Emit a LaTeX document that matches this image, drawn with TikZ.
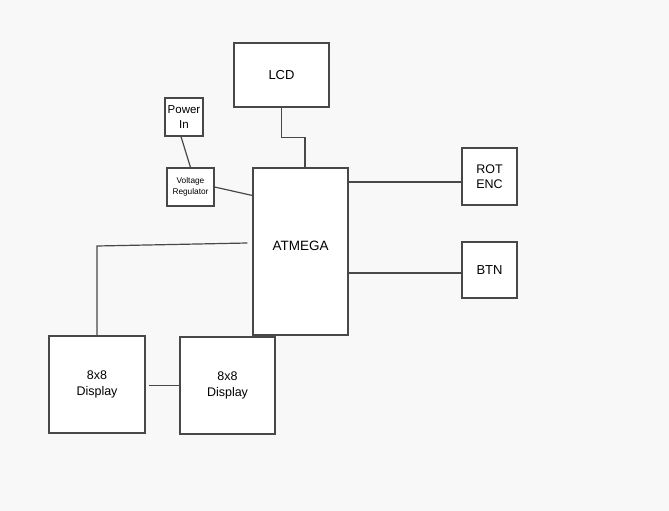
\documentclass[tikz,border=0pt]{standalone}
\usepackage{fontspec}
\setmainfont{Liberation Sans}
\definecolor{bg}{HTML}{F8F8F8}
\definecolor{ln}{HTML}{484848}
\begin{document}
\begin{tikzpicture}[x=1pt, y=-1pt,
    blk/.style={draw=ln, fill=white, line width=1.2pt, inner sep=0pt, align=center, font=\fontsize{12.5}{15.5}\selectfont},
    wire/.style={draw=ln, line width=1.2pt}]
            \fill[bg] (0,0) rectangle (669,511);
            \useasboundingbox (0,0) rectangle (669,511);

            \node[blk, minimum width=95pt, minimum height=64pt, font=\fontsize{13}{16}\selectfont] (LCD) at (281.5, 75) {LCD};
            \node[blk, minimum width=38pt, minimum height=38pt, font=\fontsize{11.5}{14.5}\selectfont] (PWR) at (184, 117) {Power\\In};
            \node[blk, minimum width=47pt, minimum height=38pt, font=\fontsize{8.3}{11}\selectfont] (VREG) at (190.5, 187) {Voltage\\Regulator};
            \node[blk, minimum width=95pt, minimum height=167pt, label={[yshift=6pt, font=\fontsize{13.5}{16}\selectfont]center:ATMEGA}] (MCU) at (300.5, 251.5) {};

            \node[blk, minimum width=55pt, minimum height=57pt] (ROT) at (489.5, 176.5) {ROT\\ENC};
            \node[blk, minimum width=55pt, minimum height=56pt, font=\fontsize{13}{16}\selectfont] (BTN) at (489.5, 270) {BTN};

            \node[blk, minimum width=96pt, minimum height=97pt] (DA) at (97, 384.5) {8x8\\Display};
            \node[blk, minimum width=95pt, minimum height=97pt] (DB) at (227.5, 385.5) {8x8\\Display};

            \coordinate (MW) at ([xshift=-5pt, yshift=8.5pt]MCU.west);
            \coordinate (DK) at (97, 246);

            \draw[wire] (LCD.south) -- ++(0, 30) -| ([xshift=4.5pt]MCU.north);
            \draw[wire] ([xshift=-3pt]PWR.south) -- (VREG.north);
            \draw[wire] (VREG.east) -- ([yshift=56pt]MCU.west);
            \draw[wire] (MW) -- (DK) -- (DA.north);
            \draw[wire] ([yshift=-5.5pt]ROT.west) -- ([yshift=-5.5pt]ROT.west -| MCU.east);
            \draw[wire] ([yshift=-3pt]BTN.west) -- ([yshift=-3pt]BTN.west -| MCU.east);
            \draw[wire] (DB.west) -- ([xshift=3pt]DB.west -| DA.east);
        \end{tikzpicture}
\end{document}
